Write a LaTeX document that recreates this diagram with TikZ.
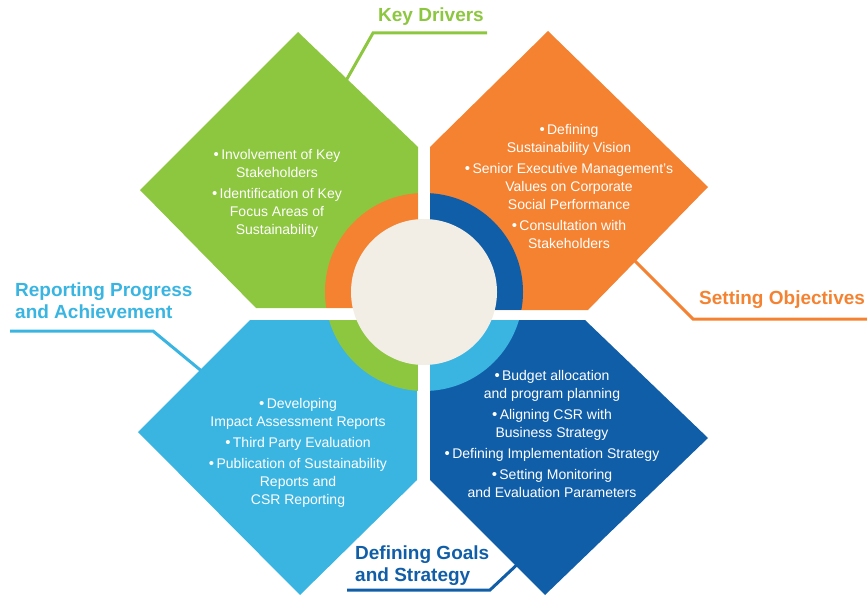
\documentclass[tikz,border=0pt]{standalone}
\usepackage{fontspec}
\setmainfont{Liberation Sans}
\usepackage{xcolor}
\definecolor{kgreen}{RGB}{141,198,63}
\definecolor{korange}{RGB}{244,130,48}
\definecolor{kdblue}{RGB}{17,94,168}
\definecolor{klblue}{RGB}{58,181,226}
\definecolor{kcream}{RGB}{243,238,229}
\newcommand{\bul}{{\fontsize{15}{15}\selectfont\textbullet}\,}

\begin{document}
\begin{tikzpicture}
        [
            x=1pt,y=-1pt,
            list/.style={text=white,align=center,font=\fontsize{14}{18}\selectfont},
            title/.style={font=\bfseries\fontsize{19}{22}\selectfont,align=left,inner sep=0pt},
            callout/.style={line width=3pt},
        ]
    \useasboundingbox (0,0) rectangle (867,596);

    % callout lines
    \coordinate (kd-end) at (487,33);
    \coordinate (kd-bend) at (373,33);
    \coordinate (kd-tip) at (343,86);
    \coordinate (so-tip) at (632,258);
    \coordinate (so-bend) at (693,319);
    \coordinate (so-end) at (867,319);
    \coordinate (rp-end) at (10,331);
    \coordinate (rp-bend) at (153,331);
    \coordinate (rp-tip) at (210,378);
    \coordinate (dg-end) at (347,590);
    \coordinate (dg-bend) at (490,590);
    \coordinate (dg-tip) at (522,560);
    \draw[callout,kgreen] (kd-end) -- (kd-bend) -- (kd-tip);
    \draw[callout,korange] (so-tip) -- (so-bend) -- (so-end);
    \draw[callout,klblue] (rp-end) -- (rp-bend) -- (rp-tip);
    \draw[callout,kdblue] (dg-end) -- (dg-bend) -- (dg-tip);

    % four quadrants
    \fill[kgreen] (256,308) -- (418,308) -- (418,147) -- (298,32) -- (140,190) -- cycle;
    \fill[korange] (430,310) -- (588,310) -- (708,187) -- (548,31) -- (430,147) -- cycle;
    \fill[klblue] (250,320) -- (417,320) -- (417,480) -- (300,595) -- (138,432) -- cycle;
    \fill[kdblue] (430,320) -- (585,320) -- (708,438) -- (545,595) -- (430,480) -- cycle;

    % ring
    \begin{scope}
        \clip (424,292) circle (99pt);
        \fill[korange] (320,188) rectangle (418,308);
        \fill[kdblue] (430,188) rectangle (528,310);
        \fill[kgreen] (320,320) rectangle (418,396);
        \fill[klblue] (430,320) rectangle (528,396);
    \end{scope}
    \fill[kcream] (424,292) circle (73pt);

    % lists
    \node[list] (kd-list) at (277,193) {\bul Involvement of Key\\Stakeholders\\[3pt]
        \bul Identification of Key\\Focus Areas of\\Sustainability};
    \node[list] (so-list) at (569,186) {\bul Defining\\Sustainability Vision\\[3pt]
        \bul Senior Executive Management's\\Values on Corporate\\Social Performance\\[3pt]
        \bul Consultation with\\Stakeholders};
    \node[list] (rp-list) at (298,453) {\bul Developing\\Impact Assessment Reports\\[3pt]
        \bul Third Party Evaluation\\[3pt]
        \bul Publication of Sustainability\\Reports and\\CSR Reporting};
    \node[list] (dg-list) at (552,434) {\bul Budget allocation\\and program planning\\[3pt]
        \bul Aligning CSR with\\Business Strategy\\[3pt]
        \bul Defining Implementation Strategy\\[3pt]
        \bul Setting Monitoring\\and Evaluation Parameters};

    % titles
    \node[title,text=kgreen,anchor=center] (kd-title) at (431,17) {Key Drivers};
    \node[title,text=korange,anchor=west] (so-title) at (699,300) {Setting Objectives};
    \node[title,text=klblue,anchor=west] (rp-title) at (15,301) {Reporting Progress\\and Achievement};
    \node[title,text=kdblue,anchor=west] (dg-title) at (355,566) {Defining Goals\\and Strategy};
\end{tikzpicture}
\end{document}
